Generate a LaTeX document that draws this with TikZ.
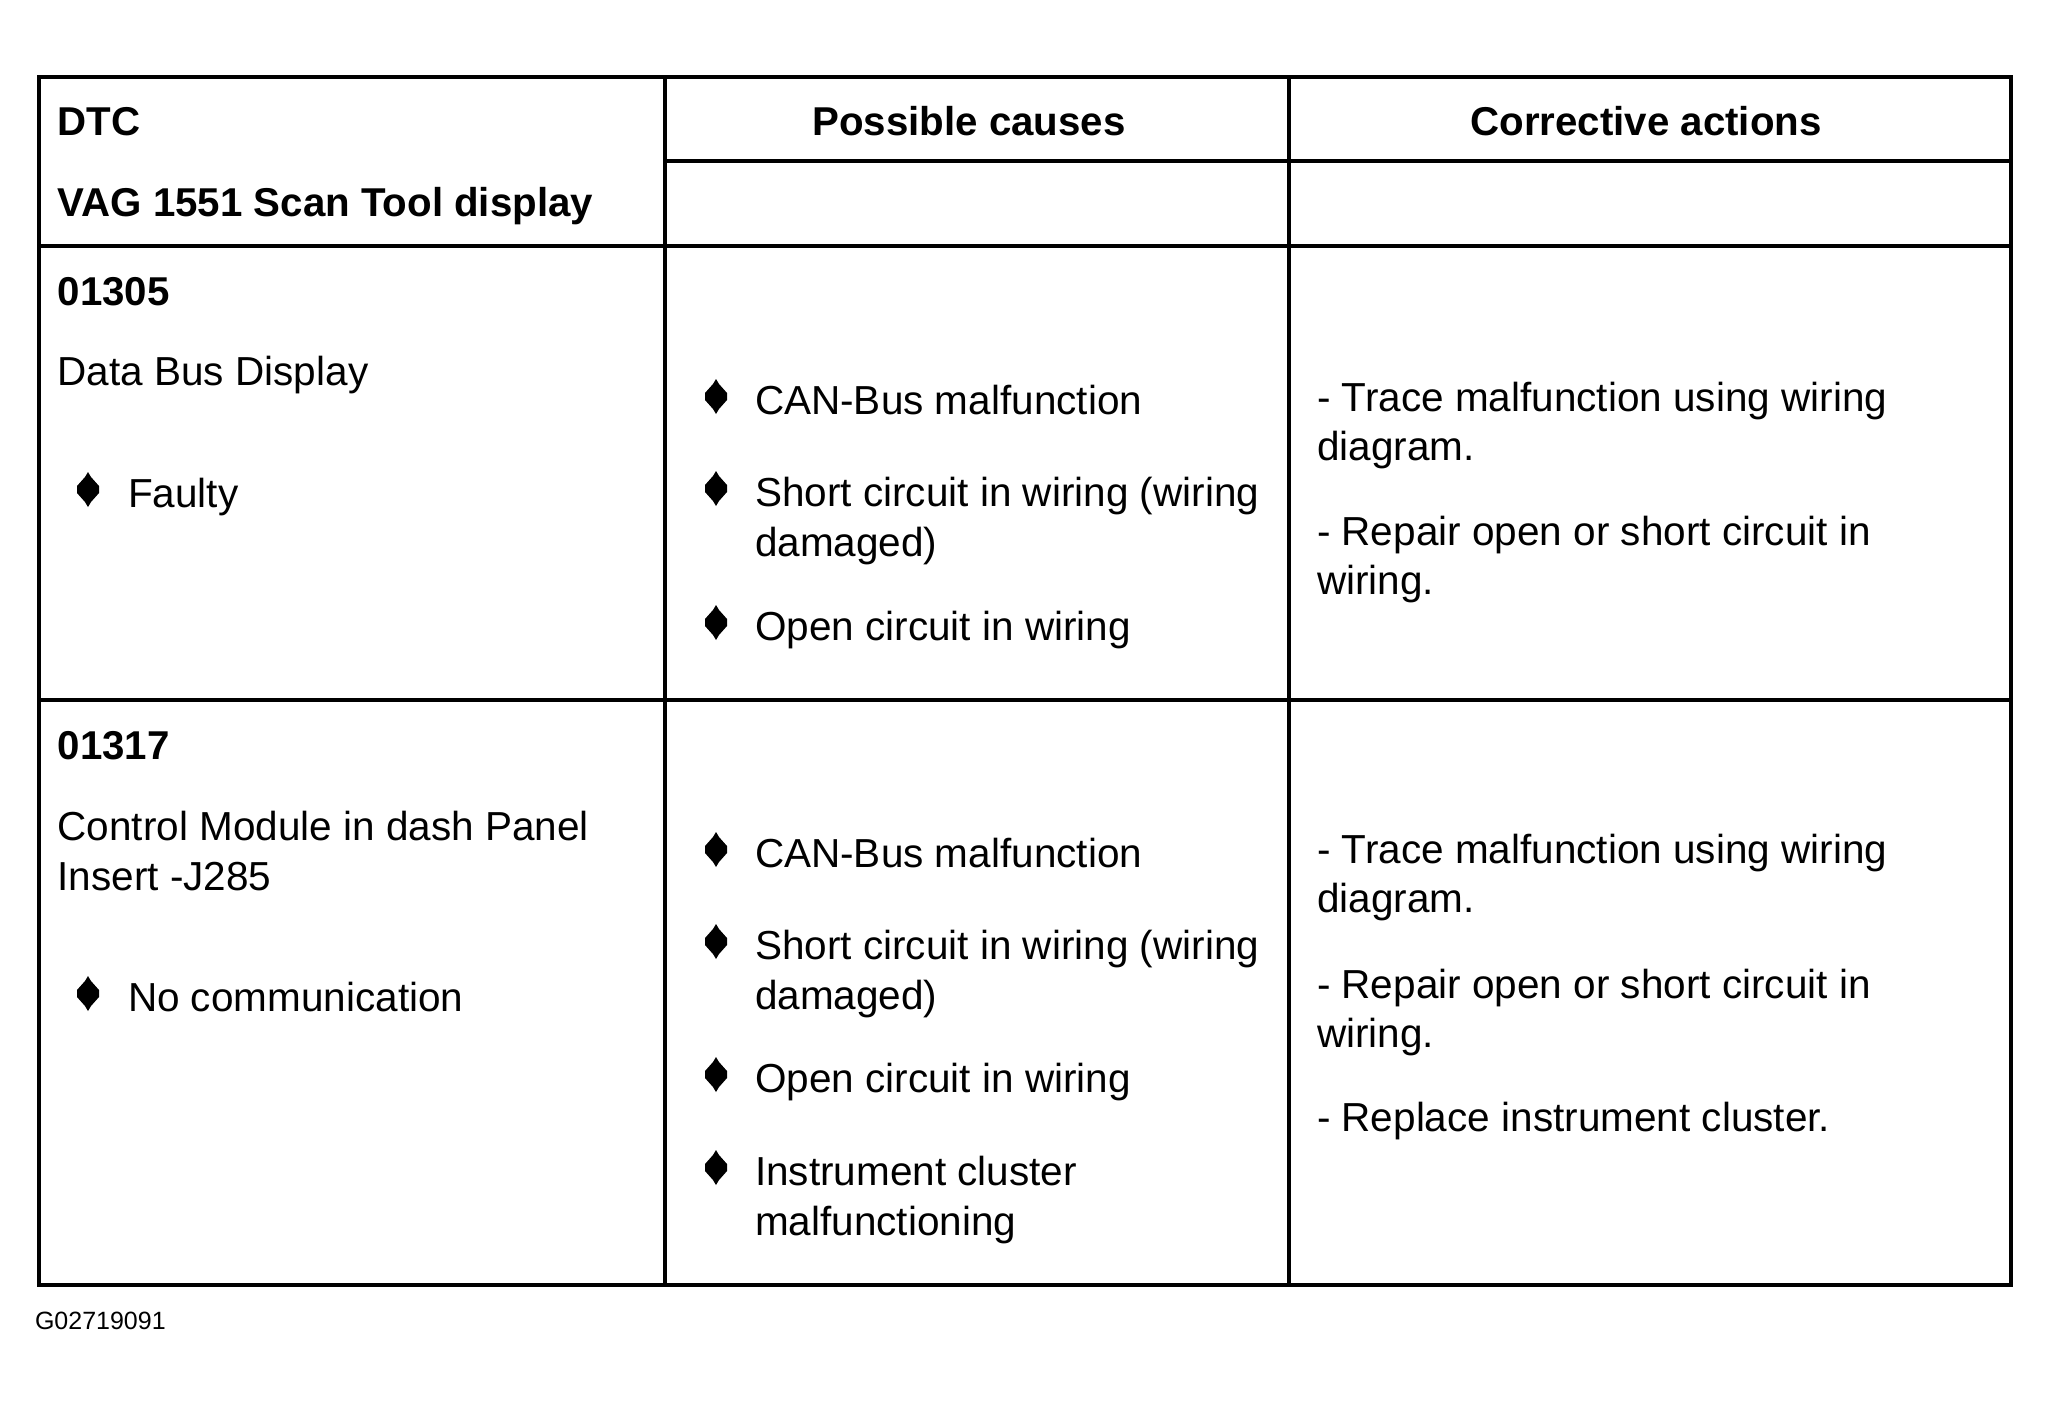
\documentclass[tikz,border=0pt]{standalone}
\usepackage{fontspec}
\setmainfont{Liberation Sans}
\begin{document}
\begin{tikzpicture}[x=0.4pt,y=-0.4pt,
  txt/.style={anchor=base west,inner sep=0pt,outer sep=0pt,font=\fontsize{16.2}{20}\selectfont},
  hdr/.style={txt,font=\fontsize{16.1}{20}\selectfont\bfseries},
  hdrc/.style={hdr,anchor=base},
  tag/.style={anchor=base west,inner sep=0pt,outer sep=0pt,font=\fontsize{10}{12}\selectfont},
  rule/.style={line width=1.6pt},
  bulletmark/.pic={\fill (0,-35) -- (3,-30) -- (11,-21) -- (11,-14) -- (3,-5) -- (0,0) -- (-3,-5) -- (-11,-14) -- (-11,-21) -- (-3,-30) -- cycle;}]
\useasboundingbox (0,0) rectangle (2050,1407);
% table
\coordinate (tl) at (38.7,76.7);
\coordinate (br) at (2011,1285.3);
\draw[rule] (tl) rectangle (br);
\draw[rule] (665,76.7) -- (665,1285.3);
\draw[rule] (1289,76.7) -- (1289,1285.3);
\draw[rule] (665,160.7) -- (2011,160.7);
\draw[rule] (38.7,246) -- (2011,246);
\draw[rule] (38.7,700) -- (2011,700);
% header
\node[hdr] (h1) at (57.7,135) {DTC};
\node[hdr] (h2) at (57.7,216.5) {VAG 1551 Scan Tool display};
\node[hdrc] (h3) at (969,135) {Possible causes};
\node[hdrc] (h4) at (1646,135) {Corrective actions};
% row 1
\node[hdr] (a1) at (57.7,305) {01305};
\node[txt] (a2) at (57.7,385) {Data Bus Display};
\pic at (88,507) {bulletmark};
\node[txt] (a3) at (128,507) {Faulty};
\pic at (716,414) {bulletmark};
\node[txt] (b1) at (755,414) {CAN-Bus malfunction};
\pic at (716,506) {bulletmark};
\node[txt] (b2) at (755,506) {Short circuit in wiring (wiring};
\node[txt] (b3) at (755,556) {damaged)};
\pic at (716,640) {bulletmark};
\node[txt] (b4) at (755,640) {Open circuit in wiring};
\node[txt] (c1) at (1317,411) {- Trace malfunction using wiring};
\node[txt] (c2) at (1317,460) {diagram.};
\node[txt] (c3) at (1317,545) {- Repair open or short circuit in};
\node[txt] (c4) at (1317,594) {wiring.};
% row 2
\node[hdr] (d1) at (57.7,759) {01317};
\node[txt] (d2) at (57.7,840) {Control Module in dash Panel};
\node[txt] (d3) at (57.7,890) {Insert -J285};
\pic at (88,1011) {bulletmark};
\node[txt] (d4) at (128,1011) {No communication};
\pic at (716,867) {bulletmark};
\node[txt] (e1) at (755,867) {CAN-Bus malfunction};
\pic at (716,959) {bulletmark};
\node[txt] (e2) at (755,959) {Short circuit in wiring (wiring};
\node[txt] (e3) at (755,1009) {damaged)};
\pic at (716,1092) {bulletmark};
\node[txt] (e4) at (755,1092) {Open circuit in wiring};
\pic at (716,1185) {bulletmark};
\node[txt] (e5) at (755,1185) {Instrument cluster};
\node[txt] (e6) at (755,1235) {malfunctioning};
\node[txt] (f1) at (1317,863) {- Trace malfunction using wiring};
\node[txt] (f2) at (1317,912) {diagram.};
\node[txt] (f3) at (1317,998) {- Repair open or short circuit in};
\node[txt] (f4) at (1317,1047) {wiring.};
\node[txt] (f5) at (1317,1131) {- Replace instrument cluster.};
% figure tag
\node[tag] (g) at (35,1329) {G02719091};
\end{tikzpicture}
\end{document}
